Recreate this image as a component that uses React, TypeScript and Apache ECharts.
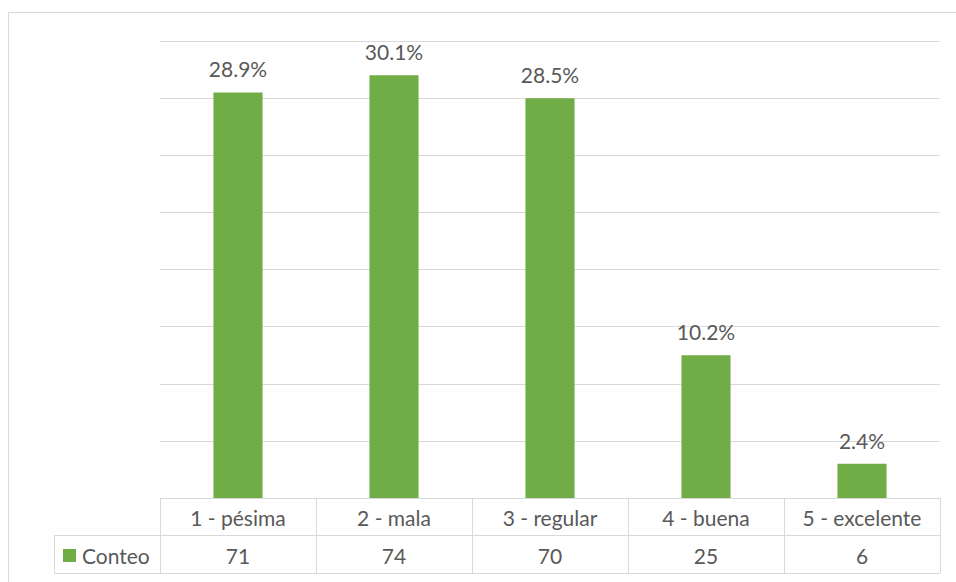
import React, { useEffect, useRef } from "react";
import * as echarts from "echarts";

const categories = ["1 - pésima", "2 - mala", "3 - regular", "4 - buena", "5 - excelente"];
const counts = [71, 74, 70, 25, 6];
const percentLabels = ["28.9%", "30.1%", "28.5%", "10.2%", "2.4%"];
const seriesName = "Conteo";

const FONT = "Lato, 'Open Sans', sans-serif";
const TEXT = "#595959";
const LINE = "#d9d9d9";
const FS = 21;

export default function App() {
  const ref = useRef<HTMLDivElement>(null);
  useEffect(() => {
    if (!ref.current) return;
    const chart = echarts.init(ref.current, null, { renderer: "svg" });
    chart.setOption({
      animation: false,
      backgroundColor: "#ffffff",
      textStyle: { fontFamily: FONT },
      legend: {
        show: true,
        left: 63,
        top: 545,
        padding: 0,
        itemWidth: 13,
        itemHeight: 13,
        itemGap: 5,
        icon: "rect",
        data: [seriesName],
        textStyle: { color: TEXT, fontSize: FS, fontFamily: FONT, padding: [0, 0, 0, 1] },
      },
      grid: { left: 160, right: 16, top: 41, bottom: 84, containLabel: false },
      xAxis: [
        {
          type: "category",
          data: categories,
          position: "bottom",
          axisLine: { show: true, lineStyle: { color: LINE, width: 1 } },
          axisTick: { show: true, length: 75, alignWithLabel: false, lineStyle: { color: LINE, width: 1 } },
          axisLabel: { color: TEXT, fontSize: FS, margin: 9, fontFamily: FONT },
          splitLine: { show: false },
        },
        {
          type: "category",
          data: categories,
          position: "bottom",
          offset: 37,
          axisLine: { show: true, lineStyle: { color: LINE, width: 1 } },
          axisTick: { show: false },
          axisLabel: {
            color: TEXT,
            fontSize: FS,
            margin: 10,
            fontFamily: FONT,
            formatter: (_v: string, i: number) => String(counts[i]),
          },
          splitLine: { show: false },
        },
      ],
      yAxis: {
        type: "value",
        min: 0,
        max: 80,
        interval: 10,
        axisLine: { show: false },
        axisTick: { show: false },
        axisLabel: { show: false },
        splitLine: { show: true, lineStyle: { color: LINE, width: 1 } },
      },
      series: [
        {
          name: seriesName,
          type: "bar",
          data: counts,
          barWidth: "31.5%",
          itemStyle: { color: "#70ad47" },
          label: {
            show: true,
            position: "top",
            distance: 13,
            color: TEXT,
            fontSize: FS,
            fontFamily: FONT,
            formatter: (p: any) => percentLabels[p.dataIndex],
          },
        },
      ],
      graphic: [
        {
          type: "rect",
          shape: { x: 8.5, y: 12.5, width: 960, height: 600 },
          style: { fill: "none", stroke: LINE, lineWidth: 1 },
          silent: true,
        },
        {
          type: "line",
          shape: { x1: 54, y1: 535.5, x2: 160, y2: 535.5 },
          style: { stroke: LINE, lineWidth: 1 },
        },
        {
          type: "line",
          shape: { x1: 54, y1: 573.5, x2: 940, y2: 573.5 },
          style: { stroke: LINE, lineWidth: 1 },
        },
        {
          type: "line",
          shape: { x1: 54.5, y1: 535, x2: 54.5, y2: 574 },
          style: { stroke: LINE, lineWidth: 1 },
        },
      ],
    });
    return () => chart.dispose();
  }, []);
  return (
    <div
      ref={ref}
      style={{ position: "fixed", left: 0, top: 0, width: 956, height: 582 }}
    />
  );
}
